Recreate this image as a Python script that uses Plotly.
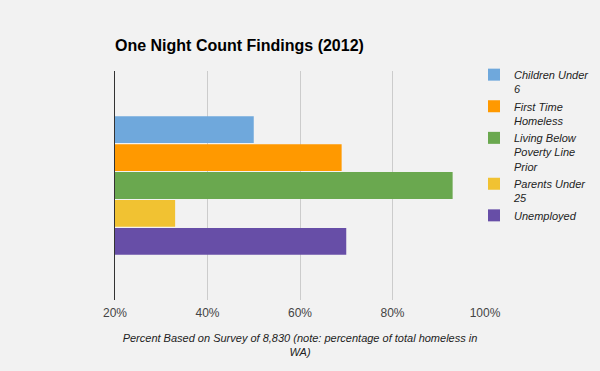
import plotly.graph_objects as go

series_names = ["Children Under<br>6", "First Time<br>Homeless", "Living Below<br>Poverty Line<br>Prior", "Parents Under<br>25", "Unemployed"]
values = [50, 69, 93, 33, 70]
colors = ["#6fa8dc", "#ff9900", "#6aa84f", "#f1c232", "#674ea7"]
category = ["2012"]
x_ticks = [20, 40, 60, 80, 100]
x_tick_labels = ["20%", "40%", "60%", "80%", "100%"]

fig = go.Figure()
for name, v, c in zip(series_names, values, colors):
    fig.add_trace(go.Bar(
        y=category, x=[v], name=name, orientation="h",
        marker=dict(color=c, line=dict(width=0)),
        hoverinfo="x+name",
    ))

fig.update_layout(
    width=600, height=371,
    paper_bgcolor="#f2f2f2", plot_bgcolor="#f2f2f2",
    margin=dict(l=115, r=115, t=71, b=71, autoexpand=False),
    barmode="group", bargap=0.39, bargroupgap=0.04,
    font=dict(family="Liberation Sans, Arial, sans-serif", color="#222"),
    title=dict(text="<b>One Night Count Findings (2012)</b>", x=115/600, xanchor="left",
               y=1 - 45/371, yanchor="middle", font=dict(size=16, color="#000")),
    showlegend=True,
    legend=dict(xref="container", yref="container", x=474/600, xanchor="left",
                y=1 - 61/371, yanchor="top", valign="top",
                font=dict(size=11, color="#222", style="italic"),
                traceorder="normal", tracegroupgap=7, itemwidth=30,
                bgcolor="rgba(0,0,0,0)"),
    xaxis=dict(range=[20, 100], tickvals=x_ticks, ticktext=x_tick_labels,
               showgrid=True, gridcolor="#cccccc", gridwidth=1, zeroline=False,
               showline=False, ticks="outside", ticklen=2, tickcolor="rgba(0,0,0,0)",
               tickfont=dict(size=12, color="#444"),
               title=dict(text="<i>Percent Based on Survey of 8,830 (note: percentage of total homeless in<br>WA)</i>",
                          font=dict(size=11, color="#222"), standoff=14)),
    yaxis=dict(autorange="reversed", showticklabels=False, showgrid=False, zeroline=False,
               showline=True, linecolor="#333333", linewidth=1, ticks=""),
)

fig.write_html(
    "out.html",
    config={"displayModeBar": False},
    post_script="document.body.style.margin='0';document.body.style.background='#f2f2f2';",
)
